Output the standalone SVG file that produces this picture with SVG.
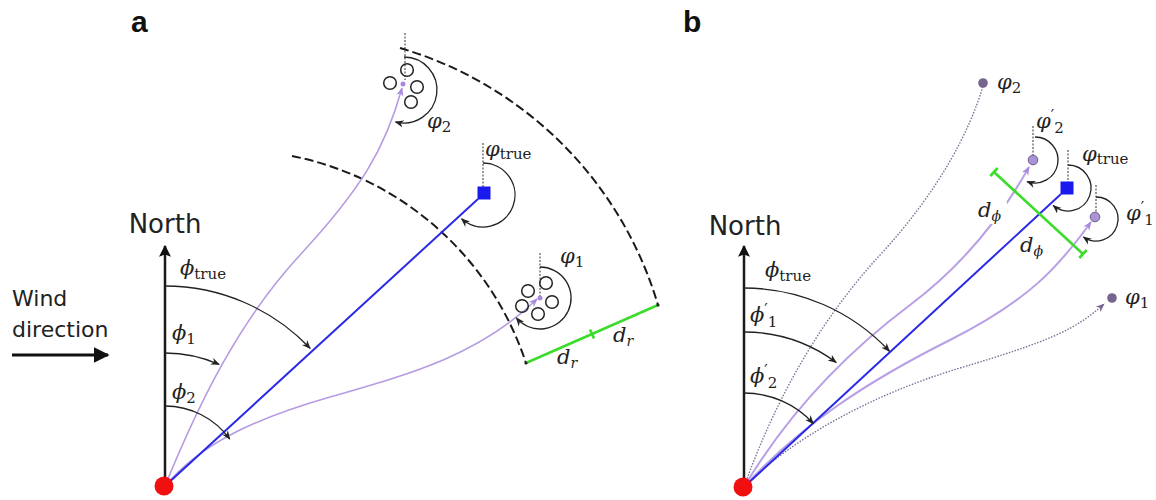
<svg xmlns="http://www.w3.org/2000/svg" width="1156" height="500" viewBox="0 0 1156 500">
<style>
.lbl{font-family:"Liberation Sans",Arial,sans-serif;font-weight:bold;font-size:30px;fill:#111}
.sans{font-family:"DejaVu Sans","Open Sans",sans-serif;fill:#222}
.m{font-family:"DejaVu Serif","Liberation Serif",serif;font-style:italic;font-size:21px;fill:#222}
.s{font-family:"DejaVu Serif","Liberation Serif",serif;font-style:normal;font-size:15px;fill:#222}
.si{font-family:"DejaVu Serif","Liberation Serif",serif;font-style:italic;font-size:14px;fill:#222}
.pr{font-family:"DejaVu Sans","Liberation Sans",sans-serif;font-style:normal;font-size:15px;fill:#222}
.axis{stroke:#1a1a1a;stroke-width:2.5;fill:none}
.arc{stroke:#222;stroke-width:1.3;fill:none}
.vref{stroke:#333;stroke-width:1;stroke-dasharray:2,1.5;fill:none}
.dash{stroke:#1a1a1a;stroke-width:2;stroke-dasharray:9,4;fill:none}
.pa{stroke:#b59ce2;stroke-width:1.6;fill:none}
.pb{stroke:#b89fe6;stroke-width:2;fill:none}
.dot{stroke:#7c7198;stroke-width:1.4;stroke-dasharray:1.5,1.5;fill:none}
.blue{stroke:#2a2ae6;stroke-width:2;fill:none}
.green{stroke:#3cdc2c;stroke-width:2.6;fill:none}
.cl{stroke:#222;stroke-width:1.5;fill:none}
</style>
<defs>
<marker id="ak" viewBox="0 0 10 10" refX="9" refY="5" markerWidth="9" markerHeight="9" markerUnits="userSpaceOnUse" orient="auto"><path d="M0,1 L10,5 L0,9 L3,5 z" fill="#222"/></marker>
<marker id="aw" viewBox="0 0 10 10" refX="9" refY="5" markerWidth="16" markerHeight="16" markerUnits="userSpaceOnUse" orient="auto"><path d="M0,0 L10,5 L0,10 z" fill="#111"/></marker>
<marker id="an" viewBox="0 0 10 10" refX="9" refY="5" markerWidth="12" markerHeight="12" markerUnits="userSpaceOnUse" orient="auto"><path d="M0,0 L10,5 L0,10 L2,5 z" fill="#111"/></marker>
<marker id="ap" viewBox="0 0 10 10" refX="9" refY="5" markerWidth="9" markerHeight="9" markerUnits="userSpaceOnUse" orient="auto"><path d="M0,1 L10,5 L0,9 L3,5 z" fill="#a88ae0"/></marker>
<marker id="ad" viewBox="0 0 10 10" refX="9" refY="5" markerWidth="9" markerHeight="9" markerUnits="userSpaceOnUse" orient="auto"><path d="M0,1 L10,5 L0,9 L3,5 z" fill="#75668f"/></marker>
</defs>
<rect width="1156" height="500" fill="#fff"/>

<!-- ===== Panel a ===== -->
<g id="panel-a">
<text class="lbl" x="131" y="32">a</text>
<g id="a-north">
<line class="axis" x1="165" y1="486" x2="165" y2="246" marker-end="url(#an)"/>
<text class="sans" x="165" y="233" font-size="26" text-anchor="middle">North</text>
</g>
<g id="a-wind">
<text class="sans" x="12" y="306" font-size="22">Wind</text>
<text class="sans" x="12" y="337" font-size="22">direction</text>
<line x1="12" y1="355" x2="108" y2="355" stroke="#111" stroke-width="3" marker-end="url(#aw)"/>
</g>
<g id="a-connectors">
<path class="dash" d="M292,156 A310,310 0 0 1 526,363"/>
<path class="dash" d="M400,48 A380,380 0 0 1 658,305"/>
<path class="pa" d="M165,486 C200,400 240,320 300,255 S385,150 402,88" marker-end="url(#ap)"/>
<path class="pa" d="M165,486 C200,445 250,420 330,397 S480,355 537,299" marker-end="url(#ap)"/>
<line class="blue" x1="165" y1="486" x2="478" y2="199"/>
<path class="arc" d="M165,286 A200,200 0 0 1 310.1,348.3" marker-end="url(#ak)"/>
<path class="arc" d="M165,353 A133,133 0 0 1 219.1,364.5" marker-end="url(#ak)"/>
<path class="arc" d="M165,406 A80,80 0 0 1 229.7,439" marker-end="url(#ak)"/>
<line class="green" x1="526" y1="363" x2="658" y2="305"/>
<line class="green" x1="590" y1="329.4" x2="594" y2="338.6" stroke-width="1.8"/>
<circle cx="526" cy="363" r="1.6" fill="#222"/>
<circle cx="658" cy="305" r="1.6" fill="#222"/>
</g>
<g id="a-origin"><circle cx="164" cy="486" r="9.5" fill="#f01010"/></g>
<g id="a-phi2">
<line class="vref" x1="405" y1="33" x2="405" y2="80"/>
<path class="arc" d="M404,57 A33,33 0 1 1 395.5,121.9" marker-end="url(#ak)"/>
<circle class="cl" cx="407" cy="70" r="6.3"/>
<circle class="cl" cx="390" cy="83" r="6.3"/>
<circle class="cl" cx="417" cy="87" r="6.3"/>
<circle class="cl" cx="411" cy="102" r="6.3"/>
<circle cx="403" cy="84" r="2.5" fill="#a88ae0"/>
<text class="m" x="427" y="128">φ<tspan class="s" dy="4">2</tspan></text>
</g>
<g id="a-phitrue">
<line class="vref" x1="483" y1="143" x2="483" y2="187"/>
<path class="arc" d="M483,163 A32,32 0 1 1 461.6,218.8" marker-end="url(#ak)"/>
<rect x="477.5" y="186.5" width="13" height="13" fill="#1a1aee"/>
<text class="m" x="485" y="156">φ<tspan class="s" dy="3">true</tspan></text>
</g>
<g id="a-phi1">
<line class="vref" x1="540" y1="253" x2="540" y2="296"/>
<path class="arc" d="M540,267 A31,31 0 1 1 516.3,317.9" marker-end="url(#ak)"/>
<circle class="cl" cx="546" cy="283" r="6.3"/>
<circle class="cl" cx="528" cy="291" r="6.3"/>
<circle class="cl" cx="552" cy="302" r="6.3"/>
<circle class="cl" cx="522" cy="306" r="6.3"/>
<circle class="cl" cx="538" cy="314" r="6.3"/>
<circle cx="540" cy="298" r="2.5" fill="#a88ae0"/>
<text class="m" x="560" y="263">φ<tspan class="s" dy="4">1</tspan></text>
</g>
<g id="a-labels">
<text class="m" x="180" y="275">ϕ<tspan class="s" dy="4">true</tspan></text>
<text class="m" x="172" y="340">ϕ<tspan class="s" dy="4">1</tspan></text>
<text class="m" x="172" y="399">ϕ<tspan class="s" dy="4">2</tspan></text>
<text class="m" x="557" y="364">d<tspan class="si" dy="4">r</tspan></text>
<text class="m" x="613" y="342">d<tspan class="si" dy="4">r</tspan></text>
</g>
</g>

<!-- ===== Panel b ===== -->
<g id="panel-b">
<text class="lbl" x="683" y="32">b</text>
<g id="b-north">
<line class="axis" x1="744" y1="487" x2="744" y2="246" marker-end="url(#an)"/>
<text class="sans" x="745" y="235" font-size="26" text-anchor="middle">North</text>
</g>
<g id="b-connectors">
<path class="dot" d="M744,487 C775,400 820,320 880,255 S970,130 983,86"/>
<path class="dot" d="M744,487 C790,440 870,395 960,368 S1075,330 1104,304" marker-end="url(#ad)"/>
<path class="pb" d="M744,487 C790,410 850,350 910,305 S1005,210 1029,167" marker-end="url(#ap)"/>
<path class="pb" d="M744,487 C800,425 870,380 950,340 S1060,265 1091,222" marker-end="url(#ap)"/>
<line class="blue" x1="744" y1="487" x2="1061" y2="194"/>
<path class="arc" d="M744,288 A199,199 0 0 1 889.5,351.3" marker-end="url(#ak)"/>
<path class="arc" d="M744,332 A155,155 0 0 1 836.2,362.4" marker-end="url(#ak)"/>
<path class="arc" d="M744,393 A94,94 0 0 1 813.3,423.5" marker-end="url(#ak)"/>
<line class="green" x1="994" y1="172" x2="1083" y2="254"/>
<line class="green" x1="990.3" y1="176" x2="997.7" y2="168" stroke-width="1.8"/>
<line class="green" x1="1079.3" y1="258" x2="1086.7" y2="250" stroke-width="1.8"/>
</g>
<g id="b-origin"><circle cx="743" cy="487" r="9.5" fill="#f01010"/></g>
<g id="b-phi2">
<circle cx="983" cy="83" r="4.8" fill="#76668f"/>
<text class="m" x="997" y="89">φ<tspan class="s" dy="4">2</tspan></text>
</g>
<g id="b-phi1">
<circle cx="1112" cy="298" r="4.8" fill="#76668f"/>
<text class="m" x="1125" y="304">φ<tspan class="s" dy="4">1</tspan></text>
</g>
<g id="b-phi2p">
<line class="vref" x1="1033" y1="126" x2="1033" y2="155"/>
<path class="arc" d="M1035,137 A23,23 0 1 1 1027.1,181.6" marker-end="url(#ak)"/>
<circle cx="1033" cy="160" r="4.8" fill="#ab93d8" stroke="#6e5e8c" stroke-width="1"/>
<text class="m" x="1036" y="128">φ<tspan class="pr" dy="-7">′</tspan><tspan class="s" dy="12">2</tspan></text>
</g>
<g id="b-phitrue">
<line class="vref" x1="1068" y1="150" x2="1068" y2="182"/>
<path class="arc" d="M1068,165 A23,23 0 1 1 1053.2,205.6" marker-end="url(#ak)"/>
<rect x="1060.5" y="181.5" width="13" height="13" fill="#1a1aee"/>
<text class="m" x="1082" y="161">φ<tspan class="s" dy="3">true</tspan></text>
</g>
<g id="b-phi1p">
<line class="vref" x1="1096" y1="185" x2="1096" y2="212"/>
<path class="arc" d="M1096,197 A22,22 0 1 1 1083.4,237" marker-end="url(#ak)"/>
<circle cx="1095" cy="217" r="4.8" fill="#ab93d8" stroke="#6e5e8c" stroke-width="1"/>
<text class="m" x="1126" y="220">φ<tspan class="pr" dy="-7">′</tspan><tspan class="s" dy="12">1</tspan></text>
</g>
<g id="b-labels">
<text class="m" x="765" y="277">ϕ<tspan class="s" dy="4">true</tspan></text>
<text class="m" x="750" y="322">ϕ<tspan class="pr" dy="-7">′</tspan><tspan class="s" dy="12">1</tspan></text>
<text class="m" x="750" y="383">ϕ<tspan class="pr" dy="-7">′</tspan><tspan class="s" dy="12">2</tspan></text>
<rect x="975" y="202" width="32" height="22" fill="#fff"/>
<text class="m" x="978" y="217">d<tspan class="si" dy="4">ϕ</tspan></text>
<text class="m" x="1020" y="252">d<tspan class="si" dy="4">ϕ</tspan></text>
</g>
</g>
</svg>
